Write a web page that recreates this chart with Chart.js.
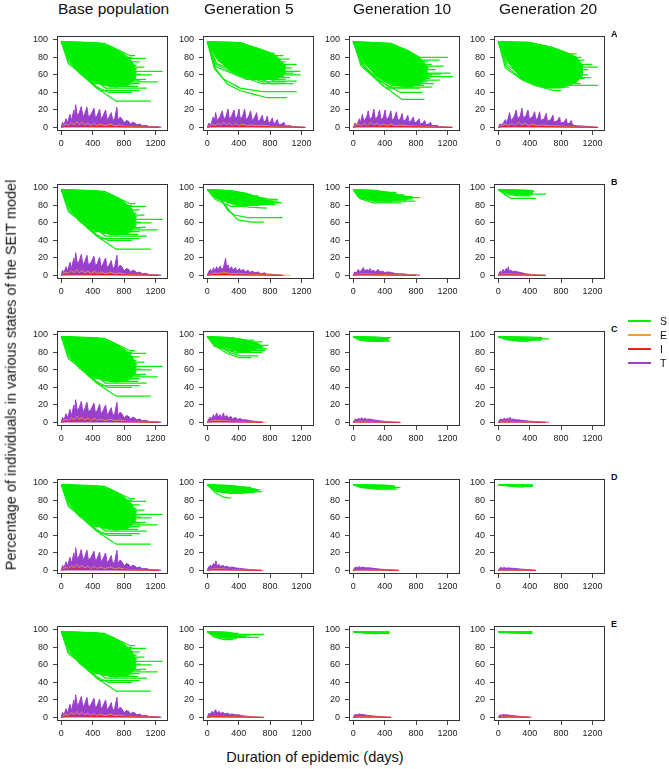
<!DOCTYPE html>
<html>
<head>
<meta charset="utf-8">
<script src="https://cdn.jsdelivr.net/npm/chart.js@4.4.1/dist/chart.umd.min.js"></script>
<style>
  body { margin: 0; background: #fff; font-family: "Liberation Sans", Arial, sans-serif; color: #111; }
  #fig { position: relative; width: 669px; height: 769px; overflow: hidden; }
  #fig canvas { position: absolute; }
  .txt { position: absolute; white-space: nowrap; line-height: 1; }
  .title { font-size: 15.5px; }
  .letter { font-size: 9px; font-weight: bold; }
  .leg { position: absolute; height: 0; border-top: 2px solid; width: 23px; }
  .legtxt { font-size: 10.5px; }
</style>
</head>
<body>
<div id="fig"></div>
<script>
// axes
const xTicks = [0, 400, 800, 1200];
const xTickLabels = ['0', '400', '800', '1200'];
const yTicks = [0, 20, 40, 60, 80, 100];
const yTickLabels = ['0', '20', '40', '60', '80', '100'];
const colTitles = ['Base population', 'Generation 5', 'Generation 10', 'Generation 20'];
const rowLetters = ['A', 'B', 'C', 'D', 'E'];
const states = ['S', 'E', 'I', 'T'];

// trajectories : flat lists of day, percentage
// base population (same in every row)
const sBase = [
  [0,98, 450,96, 820,79, 1080,79],
  [0,98, 550,96, 880,82, 940,82],
  [0,98, 380,94, 800,80, 900,80],
  [0,98, 400,95, 780,75, 1000,75],
  [0,98, 320,92, 700,73, 880,73],
  [0,98, 350,93, 760,71, 960,71],
  [0,98, 280,90, 650,69, 1060,69],
  [0,98, 300,91, 740,67, 970,67],
  [0,98, 220,88, 600,66, 900,66],
  [0,98, 250,89, 700,64, 1290,64],
  [0,98, 200,85, 560,63, 960,63],
  [0,98, 250,87, 720,61, 1010,61],
  [0,98, 170,83, 520,60, 1150,60],
  [0,98, 200,86, 680,58, 960,58],
  [0,98, 150,81, 480,57, 920,57],
  [0,98, 200,84, 700,55, 1080,55],
  [0,98, 120,79, 450,54, 1010,54],
  [0,98, 180,82, 650,52, 1230,52],
  [0,98, 110,77, 420,52, 880,52],
  [0,98, 160,80, 600,50, 1000,50],
  [0,98, 100,75, 400,50, 930,50],
  [0,98, 150,78, 620,47, 980,47],
  [0,98, 90,73, 350,55, 700,47, 850,47],
  [0,98, 140,76, 560,45, 1090,45],
  [0,98, 130,74, 500,42, 1000,42],
  [0,98, 150,80, 230,62, 400,52, 760,50],
  [0,98, 200,66, 420,48, 600,40, 900,40],
  [0,98, 200,65, 450,45, 700,30, 1140,30]
];
const cBaseTop = [0,98, 450,97, 650,92, 800,84, 900,76, 950,66];
const cBaseBot = [0,98, 60,88, 150,74, 280,60, 400,53, 550,48, 700,46, 850,48, 950,56];
const tBase = [0,0, 15,6, 35,3, 60,10, 80,5, 110,15, 130,8, 160,20, 170,11, 183,26, 205,13, 230,17, 255,24, 275,12, 300,16, 327,23, 345,12, 380,15, 416,22, 435,11, 460,14, 488,21, 505,10, 530,13, 565,20, 582,9, 610,12, 637,17, 655,8, 680,10, 709,23, 722,8, 750,12, 780,9, 800,5, 830,8, 860,7, 880,4, 910,6, 940,5, 960,3, 1000,4, 1030,2, 1080,2.5, 1120,1, 1200,0.8, 1270,0.5, 1272,0];
const eBase = [0,0, 30,2, 60,4, 90,2, 130,6, 160,3, 200,7, 230,3, 260,6, 300,3, 340,5, 380,2, 420,5, 460,2, 500,4, 560,2, 620,4, 680,2, 740,3, 800,1.5, 900,1, 1000,0.8, 1100,0.5, 1200,0.3];
const iBase = [0,0, 40,1.2, 150,1.8, 300,1.5, 500,1.2, 700,1, 900,0.6, 1100,0.4, 1250,0.2];

// row A
const sA5 = [
  [0,98, 420,97, 880,82, 970,82],
  [0,98, 400,96, 700,88, 820,85, 860,85],
  [0,98, 360,94, 800,80, 900,80],
  [0,98, 380,95, 900,78, 1050,78],
  [0,98, 320,92, 750,75, 1000,75],
  [0,98, 280,90, 700,73, 900,73],
  [0,98, 340,93, 950,72, 1140,72],
  [0,98, 300,91, 800,70, 1000,70],
  [0,98, 250,88, 650,68, 1080,68],
  [0,98, 230,86, 700,66, 950,66],
  [0,98, 260,89, 900,64, 1185,64],
  [0,98, 220,85, 760,62, 950,62],
  [0,98, 190,82, 600,62, 1100,62],
  [0,98, 240,87, 850,60, 1190,60],
  [0,98, 170,80, 620,58, 980,58],
  [0,98, 140,76, 550,58, 870,58],
  [0,98, 200,83, 800,57, 1050,57],
  [0,98, 160,79, 750,55, 1000,55],
  [0,98, 100,70, 500,55, 800,55],
  [0,98, 180,81, 850,53, 1140,53],
  [0,98, 120,73, 700,52, 1000,52],
  [0,98, 150,77, 820,50, 1100,50],
  [0,98, 110,72, 450,58, 700,50, 920,50],
  [0,98, 90,67, 210,55, 420,45, 700,41, 1140,41],
  [0,98, 100,68, 250,50, 420,42, 635,37, 760,34, 1015,34]
];
const cA5Top = [0,98, 420,97, 700,89, 900,80, 1000,70];
const cA5Bot = [0,98, 60,89, 150,76, 300,64, 500,57, 700,54, 900,56, 1000,62];
const tA5 = [0,0, 20,5, 45,3, 75,12, 90,6, 106,17, 125,8, 160,12, 191,19, 210,9, 240,13, 263,21, 280,10, 310,13, 340,20, 358,10, 385,13, 404,21, 420,10, 450,13, 476,21, 492,9, 525,12, 552,19, 570,8, 600,11, 629,17, 645,7, 675,9, 701,14, 718,6, 745,8, 765,13, 780,5, 810,7, 829,11, 845,4, 870,6, 892,9, 910,3, 950,4, 977,6, 990,2, 1050,2, 1100,1, 1200,0.6, 1250,0.3, 1252,0];
const eA5 = [0,0, 30,2, 70,4, 100,2, 140,5, 170,3, 210,6, 240,3, 280,5, 320,2, 360,5, 400,2, 450,4, 500,2, 560,3, 620,2, 700,2.5, 800,1.5, 900,1, 1000,0.6, 1100,0.4, 1200,0.2];
const iA5 = [0,0, 40,1.2, 150,1.6, 300,1.5, 500,1.2, 700,0.9, 900,0.6, 1100,0.3, 1240,0.1];

const sA10 = [
  [0,98, 480,96, 850,80, 1206,80],
  [0,98, 420,95, 800,77, 1100,77],
  [0,98, 380,94, 780,75, 950,75],
  [0,98, 340,92, 760,72, 1000,72],
  [0,98, 300,89, 600,74, 820,74],
  [0,98, 300,91, 700,70, 1150,70],
  [0,98, 280,90, 720,68, 960,68],
  [0,98, 250,88, 650,66, 1050,66],
  [0,98, 200,86, 550,66, 860,66],
  [0,98, 230,87, 700,64, 900,64],
  [0,98, 210,85, 620,62, 1240,62],
  [0,98, 160,82, 500,61, 1120,61],
  [0,98, 200,84, 650,60, 1000,60],
  [0,98, 180,83, 600,58, 1270,58],
  [0,98, 170,81, 580,56, 980,56],
  [0,98, 100,77, 420,55, 900,55],
  [0,98, 150,80, 560,54, 1100,54],
  [0,98, 140,78, 520,52, 950,52],
  [0,98, 130,76, 500,50, 1030,50],
  [0,98, 120,74, 480,48, 900,48],
  [0,98, 110,72, 450,46, 1000,46],
  [0,98, 100,70, 420,45, 850,45],
  [0,98, 120,72, 300,55, 600,40, 880,40],
  [0,98, 130,70, 350,50, 620,32, 908,32]
];
const cA10Top = [0,98, 480,96, 700,88, 850,80, 950,68];
const cA10Bot = [0,98, 60,88, 150,74, 280,60, 400,52, 550,48, 700,46, 850,49, 950,58];
const tA10 = [0,0, 20,5, 45,3, 80,10, 95,5, 115,15, 135,7, 170,12, 190,19, 208,9, 240,12, 262,21, 280,10, 310,12, 335,20, 352,9, 385,12, 405,20, 422,9, 455,12, 478,19, 495,8, 525,11, 550,18, 566,8, 600,10, 622,16, 638,7, 670,9, 695,14, 710,6, 740,8, 765,12, 780,5, 815,7, 838,10, 852,4, 885,5, 910,8, 925,3, 960,4, 985,6, 1000,2, 1060,2.5, 1100,1, 1200,0.6, 1260,0.3, 1262,0];
const eA10 = [0,0, 30,2, 60,4, 100,2, 140,5, 180,2, 220,6, 260,3, 300,5, 340,2, 380,4, 430,2, 480,4, 540,2, 600,3, 700,2, 800,1.5, 900,1, 1000,0.7, 1100,0.4, 1250,0.2];
const iA10 = [0,0, 40,1.2, 150,1.6, 300,1.4, 500,1.1, 700,0.9, 900,0.6, 1100,0.3, 1260,0.1];

const sA20 = [
  [0,98, 400,97, 700,91, 900,84, 1000,84],
  [0,98, 380,96, 750,88, 1000,80, 1060,80],
  [0,98, 340,94, 680,83, 950,72, 1000,72],
  [0,98, 350,95, 700,87, 950,77, 1100,77],
  [0,98, 320,94, 650,85, 900,75, 1000,75],
  [0,98, 300,93, 700,80, 1000,72, 1200,72],
  [0,98, 280,92, 620,80, 950,69, 1270,69],
  [0,98, 260,91, 600,77, 850,68, 950,68],
  [0,98, 240,90, 580,75, 820,66, 1150,66],
  [0,98, 220,88, 560,73, 800,64, 1000,64],
  [0,98, 300,90, 600,73, 900,63, 1020,63],
  [0,98, 200,87, 540,71, 780,62, 1050,62],
  [0,98, 180,85, 520,69, 760,60, 1142,60],
  [0,98, 170,84, 500,67, 750,58, 950,58],
  [0,98, 250,85, 520,66, 760,57, 1180,57],
  [0,98, 160,82, 480,65, 720,56, 1100,56],
  [0,98, 150,80, 450,63, 700,54, 900,54],
  [0,98, 140,78, 430,61, 680,52, 1000,52],
  [0,98, 130,76, 400,59, 660,50, 1050,50],
  [0,98, 200,80, 460,60, 700,50, 950,50],
  [0,98, 120,74, 380,57, 650,48, 1270,48],
  [0,98, 110,72, 350,55, 620,47, 850,47],
  [0,98, 100,70, 330,53, 600,46, 900,46],
  [0,98, 90,68, 293,55, 463,48, 632,44, 717,42, 800,42]
];
const cA20Top = [0,98, 380,97.5, 675,92, 890,85, 1000,80, 1080,70];
const cA20Bot = [0,98, 60,88, 150,72, 293,56, 463,49, 632,45, 800,45, 1000,52, 1080,60];
const tA20 = [0,0, 20,4, 50,3, 90,9, 110,5, 144,17, 160,8, 200,12, 229,20, 245,10, 280,13, 301,22, 318,11, 350,13, 378,20, 395,10, 435,12, 463,18, 478,9, 505,11, 526,18, 542,8, 585,10, 611,16, 626,7, 670,9, 696,14, 710,6, 755,8, 781,12, 795,5, 840,6, 866,10, 880,4, 910,5, 930,8, 945,3, 1000,2, 1100,1.5, 1200,0.8, 1270,0.3, 1272,0];
const eA20 = [0,0, 40,2, 90,4, 130,2, 170,5, 210,2, 260,6, 300,3, 340,5, 390,2, 440,4, 500,2, 560,3, 650,2, 750,2, 850,1.2, 950,0.8, 1050,0.5, 1200,0.3];
const iA20 = [0,0, 40,1, 150,1.5, 300,1.4, 500,1.1, 700,0.9, 900,0.5, 1100,0.3, 1270,0.1];

// row B
const sB5 = [
  [0,98, 300,97, 480,91, 654,91],
  [0,98, 350,96, 600,90, 800,87, 900,87],
  [0,98, 260,96, 520,88, 750,88],
  [0,98, 240,95, 600,84, 951,83],
  [0,98, 200,95, 450,86, 900,85],
  [0,98, 220,94, 560,82, 870,81],
  [0,98, 200,93, 520,78, 760,77],
  [0,98, 180,92, 450,84, 700,84],
  [0,98, 160,91, 420,82, 820,82],
  [0,98, 150,90, 400,80, 650,80],
  [0,98, 140,89, 380,83, 600,83],
  [0,98, 120,88, 350,81, 700,81],
  [0,98, 100,87, 300,79, 500,79],
  [0,98, 80,90, 250,84, 550,84],
  [0,98, 165,88, 263,74, 348,69, 518,66, 960,66],
  [0,98, 180,86, 300,72, 390,63.5, 560,61, 718,61]
];
const cB5Top = [0,98, 300,97, 500,94, 700,88, 850,84];
const cB5Bot = [0,98, 100,90, 250,84, 400,80, 600,80, 850,82];
const tB5 = [0,0, 15,4, 40,7, 55,4, 80,9, 95,5, 120,10, 135,6, 165,11, 180,7, 205,9, 220,14, 233,20, 245,9, 265,12, 280,7, 310,10, 325,6, 360,9, 375,5, 410,8, 425,5, 460,7, 480,4, 520,6, 540,3.5, 580,5, 600,3, 650,4, 680,2, 730,3, 760,1.5, 820,1.5, 880,0.8, 950,0.5, 977,0];
const eB5 = [0,0, 50,2, 100,3, 150,2, 200,4, 300,2, 400,2.5, 500,1.5, 600,1.2, 700,1, 800,0.8, 900,0.5, 1000,0.4, 1060,0.3];
const iB5 = [0,0, 50,1, 200,1.2, 400,0.8, 600,0.5, 800,0.3, 950,0.1];

const sB10 = [
  [0,98, 250,97, 450,95, 550,95],
  [0,98, 220,96, 480,92, 650,92],
  [0,98, 150,94, 350,91, 480,91],
  [0,98, 200,95, 500,90, 760,90],
  [0,98, 180,94, 520,89, 850,89],
  [0,98, 160,93, 450,88, 700,88],
  [0,98, 140,92, 420,87, 600,87],
  [0,98, 120,91, 400,86, 680,86],
  [0,98, 60,90, 200,86, 400,86],
  [0,98, 100,90, 380,85, 786,85],
  [0,98, 90,89, 300,84, 500,84],
  [0,98, 80,88, 250,83, 616,83]
];
const cB10Top = [0,98, 250,97.5, 450,95, 650,91, 750,89];
const cB10Bot = [0,98, 50,94, 150,88, 300,85, 500,86, 700,87, 750,88];
const tB10 = [0,0, 15,4, 40,3, 64,7, 80,4, 105,6, 128,9, 145,5, 175,7, 190,5, 212,8, 228,5, 260,6, 280,4, 319,7, 335,4, 370,5, 400,3.5, 440,4, 489,3.5, 520,2.5, 580,2, 659,1.8, 700,1, 780,0.8, 850,0.4, 852,0];
const eB10 = [0,0, 50,1.5, 150,2, 250,1.5, 350,1.2, 450,1, 600,0.8, 750,0.5, 850,0.2];
const iB10 = [0,0, 50,0.8, 200,0.8, 400,0.5, 600,0.3, 800,0.1];

const sB20 = [
  [0,98, 300,97.5, 420,97, 440,97],
  [0,98, 250,97, 400,96, 460,96],
  [0,98, 200,96, 380,95, 430,95],
  [0,98, 180,95, 350,94, 440,94],
  [0,98, 150,94.5, 320,93, 608,93],
  [0,98, 120,94, 300,92, 420,92],
  [0,98, 100,93, 250,91, 400,91],
  [0,98, 60,94, 160,88, 480,88]
];
const cB20Top = [0,98, 300,97.5, 440,97];
const cB20Bot = [0,98, 50,96, 150,93, 300,92, 440,93];
const tB20 = [0,0, 15,4, 30,5, 45,3.5, 60,7, 75,4, 100,8, 115,5, 127,10, 140,5, 160,6, 180,4.5, 210,5, 250,4, 300,3, 350,2, 400,1.5, 450,1, 520,0.6, 600,0.3, 608,0];
const eB20 = [0,0, 30,1.5, 100,2, 200,1.5, 300,1, 400,0.8, 500,0.5, 600,0.2];
const iB20 = [0,0, 50,0.8, 200,0.6, 400,0.3, 600,0.1];

// row C
const sC5 = [
  [0,98, 300,97, 500,94, 600,94],
  [0,98, 260,96, 520,92, 700,92],
  [0,98, 240,95, 500,90, 640,90],
  [0,98, 220,94, 520,88, 780,88],
  [0,98, 200,93, 500,86, 720,86],
  [0,98, 180,92, 480,84, 760,84],
  [0,98, 160,91, 450,83, 620,83],
  [0,98, 140,90, 420,82, 740,82],
  [0,98, 120,89, 400,81, 560,81],
  [0,98, 90,87, 300,82, 500,82],
  [0,98, 100,88, 350,80, 700,80],
  [0,98, 150,88, 280,80, 420,76, 650,76],
  [0,98, 130,86, 250,79, 400,74, 560,74]
];
const cC5Top = [0,98, 300,97, 500,94, 650,90, 700,87];
const cC5Bot = [0,98, 50,94, 150,88, 300,84, 450,83, 600,84, 700,85];
const tC5 = [0,0, 15,4, 40,6, 55,4, 80,9, 95,5, 120,11, 135,6, 160,9, 180,5, 205,11, 220,6, 250,8, 265,5, 300,7, 320,4, 360,6, 380,3.5, 420,4.5, 450,3, 500,3, 550,2, 600,1.5, 650,1, 700,0.5, 720,0];
const eC5 = [0,0, 40,1.5, 100,2.5, 200,2, 300,1.5, 400,1.2, 500,1, 600,0.6, 700,0.3, 760,0.1];
const iC5 = [0,0, 50,1, 200,1, 400,0.6, 600,0.3, 700,0.1];

const sC10 = [
  [0,98, 250,97.5, 400,97, 480,97],
  [0,98, 200,97, 380,96, 430,96],
  [0,98, 180,96, 350,95, 450,95],
  [0,98, 150,95.5, 330,94, 400,94],
  [0,98, 120,95, 300,93, 470,93],
  [0,98, 100,94, 250,92.5, 380,92.5],
  [0,98, 80,94, 200,93, 300,93]
];
const cC10Top = [0,98, 300,97.5, 450,96.5];
const cC10Bot = [0,98, 50,96, 150,94, 300,93, 450,94];
const tC10 = [0,0, 15,3, 30,4, 45,3, 70,5, 85,3.5, 110,5.5, 125,3.5, 150,5, 170,3.5, 200,4, 250,3, 300,2.5, 350,1.8, 400,1.3, 450,1, 500,0.6, 560,0.3, 600,0];
const eC10 = [0,0, 30,1, 100,1.5, 200,1.2, 300,0.8, 400,0.6, 500,0.4, 600,0.2];
const iC10 = [0,0, 50,0.6, 200,0.5, 400,0.3, 600,0.1];

const sC20 = [
  [0,98, 300,97.5, 500,97, 560,97],
  [0,98, 250,97, 450,96, 520,96],
  [0,98, 200,96.5, 420,95.5, 650,95.5],
  [0,98, 180,96, 380,95, 480,95],
  [0,98, 150,95.5, 350,94, 550,94],
  [0,98, 120,95, 300,93.5, 420,93.5],
  [0,98, 100,94.5, 250,93, 380,93]
];
const cC20Top = [0,98, 400,97.5, 560,97];
const cC20Bot = [0,98, 60,96.5, 200,94.5, 400,94, 560,95];
const tC20 = [0,0, 15,3, 30,4, 50,3, 80,5, 95,3.5, 120,5, 135,3.5, 150,6, 165,3.5, 190,4, 220,3, 260,3, 300,2.5, 350,2, 400,1.5, 450,1.2, 500,1, 560,0.6, 620,0.3, 650,0];
const eC20 = [0,0, 30,1, 100,1.5, 200,1.2, 300,1, 400,0.7, 500,0.5, 600,0.3, 650,0.1];
const iC20 = [0,0, 50,0.6, 200,0.6, 400,0.4, 600,0.1];

// row D
const sD5 = [
  [0,98, 300,97, 500,95, 560,95],
  [0,98, 250,96, 480,93, 620,93],
  [0,98, 220,95, 450,92, 680,92],
  [0,98, 200,94, 430,91, 540,91],
  [0,98, 110,92, 330,90.5, 480,90.5],
  [0,98, 180,93, 400,90, 700,90],
  [0,98, 160,92, 380,89, 600,89],
  [0,98, 140,91, 350,88.5, 500,88.5],
  [0,98, 120,90, 300,88, 450,88],
  [0,98, 100,89, 200,84, 260,83, 300,83]
];
const cD5Top = [0,98, 300,97, 500,95, 650,92];
const cD5Bot = [0,98, 50,95, 150,90, 300,88.5, 500,89, 650,90];
const tD5 = [0,0, 15,4, 40,6, 55,4, 80,8, 95,6, 110,11, 125,5, 150,7, 170,4.5, 200,6, 220,4, 250,5, 280,3.5, 320,4, 360,3, 400,2.5, 450,2, 500,1.5, 560,1, 620,0.6, 680,0.3, 700,0];
const eD5 = [0,0, 40,1.5, 100,2, 200,1.8, 300,1.2, 400,1, 500,0.6, 600,0.4, 700,0.2];
const iD5 = [0,0, 50,1, 200,0.8, 400,0.5, 600,0.2, 700,0.1];

const sD10 = [
  [0,98, 300,97.5, 450,97, 500,97],
  [0,98, 250,97, 420,96, 530,96],
  [0,98, 200,96.5, 400,95.5, 460,95.5],
  [0,98, 180,96, 380,95, 600,95],
  [0,98, 150,95.5, 350,94, 480,94],
  [0,98, 120,95, 300,93, 560,93],
  [0,98, 100,94.5, 250,93.5, 380,93.5]
];
const cD10Top = [0,98, 400,97.5, 530,96.5];
const cD10Bot = [0,98, 50,97, 150,95, 350,93.5, 530,94];
const tD10 = [0,0, 15,3, 35,4, 50,3, 75,4.5, 90,3, 120,4, 150,3, 200,3, 250,2.5, 300,2, 350,1.5, 400,1.2, 450,1, 500,0.6, 550,0.3, 580,0];
const eD10 = [0,0, 30,1, 100,1.2, 200,1, 300,0.8, 400,0.6, 500,0.4, 580,0.2];
const iD10 = [0,0, 50,0.8, 200,0.6, 400,0.4, 580,0.2];

const sD20 = [
  [0,98, 250,97.8, 400,97.5, 440,97.5],
  [0,98, 200,97.5, 380,97, 420,97],
  [0,98, 180,97, 350,96.5, 440,96.5],
  [0,98, 150,96.8, 300,96, 380,96],
  [0,98, 120,96.5, 250,95.5, 330,95.5]
];
const cD20Top = [0,98, 440,97.8];
const cD20Bot = [0,98, 150,96.5, 300,96, 440,96];
const tD20 = [0,0, 15,2.5, 35,3.5, 50,2.5, 80,3.5, 100,2.5, 130,3, 160,2.5, 200,2.5, 250,2, 300,1.5, 350,1.2, 400,0.8, 450,0.5, 480,0];
const eD20 = [0,0, 30,0.8, 100,1, 200,0.8, 300,0.6, 400,0.4, 480,0.2];
const iD20 = [0,0, 50,0.6, 200,0.5, 400,0.3, 480,0.1];

// row E
const sE5 = [
  [0,98, 200,97.5, 330,96, 400,96],
  [0,98, 180,97, 320,95, 722,95],
  [0,98, 160,96, 300,94, 552,94],
  [0,98, 150,95.5, 300,92.5, 500,92.5],
  [0,98, 140,95, 280,93, 450,93],
  [0,98, 120,94, 260,91.5, 658,91.5],
  [0,98, 100,93, 240,90.5, 380,90.5],
  [0,98, 80,92, 212,89, 330,89]
];
const cE5Top = [0,98, 250,97.5, 350,96];
const cE5Bot = [0,98, 50,96, 150,91.5, 250,90.5, 350,91];
const tE5 = [0,0, 20,5, 35,3.5, 60,7, 75,4.5, 106,9, 120,5, 150,7, 170,4.5, 200,6, 220,4, 260,5, 280,3.5, 320,4, 360,3, 400,3, 450,2, 500,1.5, 550,1, 600,0.7, 650,0.5, 700,0.3, 725,0];
const eE5 = [0,0, 30,1, 100,1.5, 200,1.2, 300,1, 400,0.8, 500,0.5, 600,0.3, 725,0.1];
const iE5 = [0,0, 50,1, 200,0.8, 400,0.5, 600,0.2, 720,0.1];

const sE10 = [
  [0,98, 250,97.8, 400,97.5, 460,97.5],
  [0,98, 200,97.5, 380,97, 440,97],
  [0,98, 180,97, 350,96.5, 400,96.5],
  [0,98, 150,96.8, 300,96, 460,96],
  [0,98, 120,96.5, 250,95.8, 330,95.8]
];
const cE10Top = [0,98, 460,97.8];
const cE10Bot = [0,98, 150,96.5, 300,96, 460,96];
const tE10 = [0,0, 15,3, 30,3.5, 45,3, 70,4, 90,3.5, 110,3.8, 140,3, 180,2.5, 230,2, 280,1.5, 330,1.2, 380,0.8, 430,0.5, 480,0.3, 485,0];
const eE10 = [0,0, 30,0.8, 100,1, 200,0.8, 300,0.6, 400,0.4, 480,0.2];
const iE10 = [0,0, 50,0.6, 200,0.5, 400,0.3, 480,0.1];

const sE20 = [
  [0,98, 250,97.8, 400,97.5, 433,97.5],
  [0,98, 200,97.5, 380,97, 430,97],
  [0,98, 150,97, 350,96.5, 420,96.5],
  [0,98, 120,96.8, 300,96.2, 433,96.2]
];
const cE20Top = [0,98, 433,98];
const cE20Bot = [0,96.8, 433,96.2];
const tE20 = [0,0, 15,2.5, 30,3, 45,2.5, 64,3.5, 80,3, 110,3, 150,2.5, 200,2, 250,1.5, 300,1.2, 350,0.8, 400,0.4, 425,0];
const eE20 = [0,0, 30,0.7, 100,0.9, 200,0.7, 300,0.5, 400,0.3, 425,0.1];
const iE20 = [0,0, 50,0.5, 200,0.4, 400,0.2];

// panel table: [S lines, dense S top, dense S bottom, T, E, I]
const basePanel = [sBase, cBaseTop, cBaseBot, tBase, eBase, iBase];
const grid = [
  [basePanel, [sA5,cA5Top,cA5Bot,tA5,eA5,iA5], [sA10,cA10Top,cA10Bot,tA10,eA10,iA10], [sA20,cA20Top,cA20Bot,tA20,eA20,iA20]],
  [basePanel, [sB5,cB5Top,cB5Bot,tB5,eB5,iB5], [sB10,cB10Top,cB10Bot,tB10,eB10,iB10], [sB20,cB20Top,cB20Bot,tB20,eB20,iB20]],
  [basePanel, [sC5,cC5Top,cC5Bot,tC5,eC5,iC5], [sC10,cC10Top,cC10Bot,tC10,eC10,iC10], [sC20,cC20Top,cC20Bot,tC20,eC20,iC20]],
  [basePanel, [sD5,cD5Top,cD5Bot,tD5,eD5,iD5], [sD10,cD10Top,cD10Bot,tD10,eD10,iD10], [sD20,cD20Top,cD20Bot,tD20,eD20,iD20]],
  [basePanel, [sE5,cE5Top,cE5Bot,tE5,eE5,iE5], [sE10,cE10Top,cE10Bot,tE10,eE10,iE10], [sE20,cE20Top,cE20Bot,tE20,eE20,iE20]]
];

const colors = { S: '#00EE00', E: '#FF9A3C', I: '#E82020', T: '#9A3FCC' };

// layout
const boxLeft = [57, 203, 349, 494];
const boxTop = [29, 177, 324, 472, 619];
const boxW = 111, boxH = 102;
const yAxisW = 40, xAxisH = 24, padT = 3, padR = 4;

const fig = document.getElementById('fig');

function pts(a) {
  const out = [];
  for (let k = 0; k < a.length; k += 2) out.push({ x: a[k], y: a[k + 1] });
  return out;
}

function addText(txt, cls, left, top, extra) {
  const d = document.createElement('div');
  d.className = 'txt ' + cls;
  d.textContent = txt;
  d.style.left = left + 'px';
  d.style.top = top + 'px';
  if (extra) Object.assign(d.style, extra);
  fig.appendChild(d);
  return d;
}

// box round the plot region, like R's box()
const boxPlugin = {
  id: 'box',
  afterDraw(chart) {
    const a = chart.chartArea, ctx = chart.ctx;
    ctx.save();
    ctx.strokeStyle = '#333';
    ctx.lineWidth = 1;
    ctx.strokeRect(Math.round(a.left) + 0.5, Math.round(a.top) + 0.5,
      Math.round(a.right - a.left) - 1, Math.round(a.bottom - a.top) - 1);
    ctx.restore();
  }
};

function makePanel(r, c) {
  const [sList, coreTop, coreBot, tEnv, eLine, iLine] = grid[r][c];
  const cv = document.createElement('canvas');
  const w = yAxisW + boxW + padR, h = padT + boxH + xAxisH;
  cv.width = w; cv.height = h;
  cv.style.left = (boxLeft[c] - yAxisW) + 'px';
  cv.style.top = (boxTop[r] - padT) + 'px';
  cv.style.width = w + 'px'; cv.style.height = h + 'px';
  fig.appendChild(cv);

  const datasets = [];
  // dense part of the S bundle, filled between its upper and lower edge
  datasets.push({ data: pts(coreTop), borderColor: colors.S, borderWidth: 1, backgroundColor: colors.S, fill: '+1', order: 5 });
  datasets.push({ data: pts(coreBot), borderColor: colors.S, borderWidth: 1, fill: false, order: 5 });
  sList.forEach(tr => datasets.push({
    data: pts(tr), borderColor: colors.S, borderWidth: 1.2, fill: false, order: 4
  }));
  datasets.push({ data: pts(tEnv), borderColor: colors.T, backgroundColor: colors.T, borderWidth: 1, fill: 'origin', order: 3 });
  datasets.push({ data: pts(eLine), borderColor: 'rgba(255,154,60,0.8)', borderWidth: 1, fill: false, order: 2 });
  datasets.push({ data: pts(iLine), borderColor: colors.I, borderWidth: 1, fill: false, order: 1 });

  const tickFont = { family: '"Liberation Sans", Arial, sans-serif', size: 9 };
  new Chart(cv, {
    type: 'line',
    data: { datasets },
    options: {
      responsive: false,
      animation: false,
      events: [],
      layout: { padding: { top: padT, right: padR, left: 0, bottom: 0 } },
      elements: { point: { radius: 0 }, line: { tension: 0 } },
      plugins: { legend: { display: false }, tooltip: { enabled: false } },
      scales: {
        x: {
          type: 'linear', min: -55, max: 1360,
          afterBuildTicks: s => { s.ticks = xTicks.map(v => ({ value: v })); },
          afterFit: s => { s.height = xAxisH; },
          border: { display: false },
          grid: { drawOnChartArea: false, drawTicks: true, tickLength: 4, color: '#444' },
          ticks: { font: tickFont, color: '#222', padding: 3, maxRotation: 0, autoSkip: false,
                   callback: (v, i) => xTickLabels[i] }
        },
        y: {
          type: 'linear', min: -4, max: 104,
          afterBuildTicks: s => { s.ticks = yTicks.map(v => ({ value: v })); },
          afterFit: s => { s.width = yAxisW; },
          border: { display: false },
          grid: { drawOnChartArea: false, drawTicks: true, tickLength: 4, color: '#444' },
          ticks: { font: tickFont, color: '#222', padding: 5, autoSkip: false,
                   callback: (v, i) => yTickLabels[i] }
        }
      }
    },
    plugins: [boxPlugin]
  });
}

for (let r = 0; r < 5; r++) for (let c = 0; c < 4; c++) makePanel(r, c);

// column titles and row letters
const titleLeft = [58, 204, 353, 499];
colTitles.forEach((t, c) => addText(t, 'title', titleLeft[c], 1));
rowLetters.forEach((t, r) => addText(t, 'letter', 611, boxTop[r] + 1));

// legend
const legY = [321, 335, 349, 363];
states.forEach((s, k) => {
  const l = document.createElement('div');
  l.className = 'leg';
  l.style.left = '628px';
  l.style.top = (legY[k] - 1) + 'px';
  l.style.borderColor = colors[s];
  fig.appendChild(l);
  addText(s, 'legtxt', 660, legY[k] - 5);
});

// axis titles
addText('Duration of epidemic (days)', '', 315, 750, { fontSize: '14.5px', transform: 'translateX(-50%)' });
addText('Percentage of individuals in various states of the SEIT model', '', 11, 375,
  { fontSize: '14.5px', transform: 'translate(-50%,-50%) rotate(-90deg)' });
</script>
</body>
</html>
